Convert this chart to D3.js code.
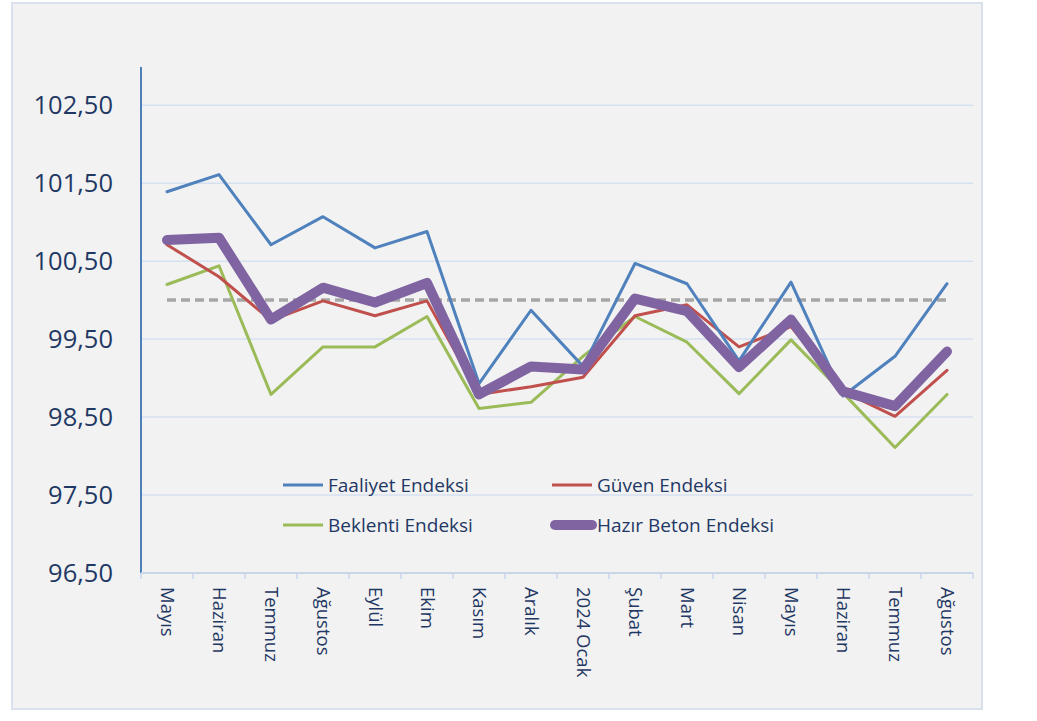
<!DOCTYPE html>
<html><head><meta charset="utf-8">
<script src="https://cdn.jsdelivr.net/npm/d3@7"></script>
<style>body{margin:0;background:#fff}svg{display:block}</style>
</head><body>
<script>
const categories = ["Mayıs","Haziran","Temmuz","Ağustos","Eylül","Ekim","Kasım","Aralık","2024 Ocak","Şubat","Mart","Nisan","Mayıs","Haziran","Temmuz","Ağustos"];
const faaliyet = [101.39,101.61,100.71,101.07,100.67,100.88,98.93,99.87,99.15,100.47,100.21,99.22,100.23,98.77,99.28,100.21];
const guven    = [100.71,100.30,99.74,99.99,99.80,99.99,98.79,98.89,99.01,99.80,99.94,99.40,99.66,98.83,98.51,99.10];
const beklenti = [100.20,100.44,98.79,99.40,99.40,99.79,98.61,98.69,99.28,99.79,99.46,98.80,99.49,98.81,98.11,98.79];
const hazir    = [100.77,100.80,99.75,100.16,99.97,100.22,98.79,99.15,99.11,100.02,99.86,99.14,99.75,98.83,98.64,99.34];
const reference = 100;
const yTicks = [96.5,97.5,98.5,99.5,100.5,101.5,102.5];
const seriesNames = ["Faaliyet Endeksi","Güven Endeksi","Beklenti Endeksi","Hazır Beton Endeksi"];

(function(){
const W=1037,H=721;
const svg=d3.select("body").append("svg").attr("width",W).attr("height",H);
svg.append("rect").attr("x",12).attr("y",3).attr("width",970).attr("height",706)
  .attr("fill","#f2f2f2").attr("stroke","#d9e2ec").attr("stroke-width",2);

const pl=141,pr=973,pt=105.2,pb=573;
const x=d3.scaleBand().domain(d3.range(categories.length)).range([pl,pr]);
const y=d3.scaleLinear().domain([96.5,102.5]).range([pb,pt]);
const font="'Open Sans', sans-serif";
const txt="#1f3864";

svg.append("g").selectAll("line").data(yTicks.slice(1)).join("line")
  .attr("x1",pl).attr("x2",pr).attr("y1",d=>y(d)).attr("y2",d=>y(d))
  .attr("stroke","#d5e1f0").attr("stroke-width",1.5);

const yAxis=d3.axisLeft(y).tickValues(yTicks).tickSize(0).tickPadding(28)
  .tickFormat(d=>d3.format(".2f")(d).replace(".",","));
const ga=svg.append("g").attr("transform",`translate(${pl},0)`).call(yAxis);
ga.select(".domain").remove();
ga.selectAll("text").attr("font-family",font).attr("font-size",25.5).attr("fill",txt);
svg.append("line").attr("x1",pl).attr("x2",pl).attr("y1",67).attr("y2",pb)
  .attr("stroke","#4f7fb8").attr("stroke-width",2);

svg.append("line").attr("x1",pl).attr("x2",pr).attr("y1",pb).attr("y2",pb)
  .attr("stroke","#c9d6e8").attr("stroke-width",2);
svg.append("g").selectAll("line").data(d3.range(categories.length+1)).join("line")
  .attr("x1",d=>pl+d*x.step()).attr("x2",d=>pl+d*x.step())
  .attr("y1",pb).attr("y2",pb+6).attr("stroke","#c9d6e8").attr("stroke-width",1.5);
svg.append("g").selectAll("text").data(categories).join("text")
  .attr("transform",(d,i)=>`translate(${x(i)+x.bandwidth()/2},587) rotate(90)`)
  .attr("dy","0.35em").attr("font-family",font).attr("font-size",18.5).attr("fill",txt).text(d=>d);

svg.append("line").attr("x1",x(0)+x.bandwidth()/2).attr("x2",x(15)+x.bandwidth()/2)
  .attr("y1",y(reference)).attr("y2",y(reference))
  .attr("stroke","#a6a6a6").attr("stroke-width",3.5).attr("stroke-dasharray","9,5");

const line=d3.line().x((d,i)=>x(i)+x.bandwidth()/2).y(d=>y(d));
const series=[
 {name:seriesNames[0],data:faaliyet,color:"#4f81bd",w:3},
 {name:seriesNames[1],data:guven,color:"#c0504d",w:3},
 {name:seriesNames[2],data:beklenti,color:"#9bbb59",w:3},
 {name:seriesNames[3],data:hazir,color:"#8064a2",w:10}
];
[2,1,0,3].forEach(k=>{const s=series[k];
  svg.append("path").datum(s.data).attr("d",line).attr("fill","none")
   .attr("stroke",s.color).attr("stroke-width",s.w).attr("stroke-linejoin","round").attr("stroke-linecap","round");
});

const legPos=[[283,485],[552,485],[283,525],[552,525]];
series.forEach((s,i)=>{const [lx,ly]=legPos[i];
  svg.append("line").attr("x1",lx+(s.w>5?3:0)).attr("x2",lx+40).attr("y1",ly).attr("y2",ly)
    .attr("stroke",s.color).attr("stroke-width",s.w).attr("stroke-linecap",s.w>5?"round":"butt");
  svg.append("text").attr("x",lx+45).attr("y",ly).attr("dy","0.35em")
    .attr("font-family",font).attr("font-size",19).attr("fill",txt).text(s.name);
});
})();
</script>
</body></html>
